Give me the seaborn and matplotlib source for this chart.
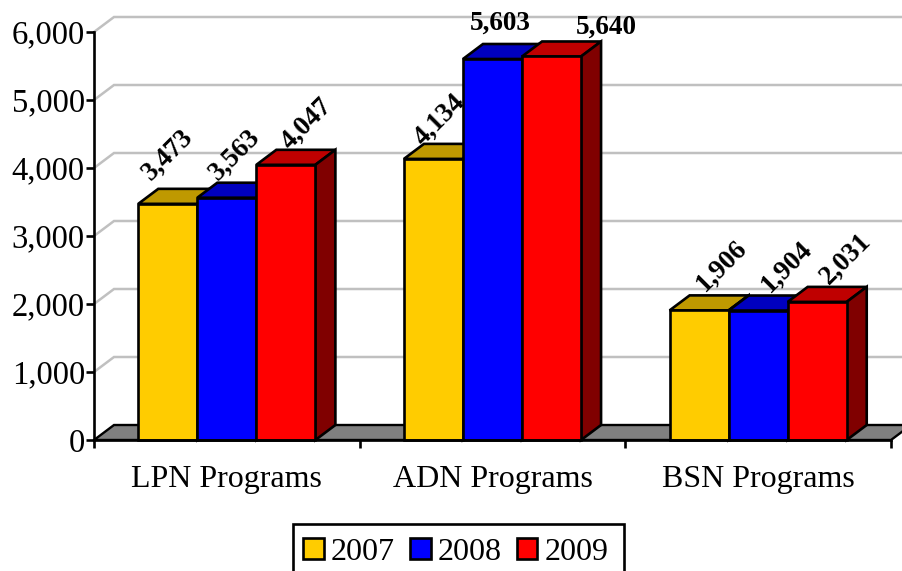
import matplotlib
matplotlib.use("Agg")
import matplotlib.pyplot as plt
from matplotlib.colors import to_rgb
from matplotlib.patches import Polygon, Rectangle
import pandas as pd
import seaborn as sns

programs = ["LPN Programs", "ADN Programs", "BSN Programs"]
years = ["2007", "2008", "2009"]
values_2007 = [3473, 4134, 1906]
values_2008 = [3563, 5603, 1904]
values_2009 = [4047, 5640, 2031]
y_ticks = [0, 1000, 2000, 3000, 4000, 5000, 6000]
bar_colors = ["#FFCC00", "#0000FF", "#FF0000"]

# label placement by hand, pixels from the top middle of the front face
label_offsets = [(0, 49), (8, 43), (21, 41),
                 (6, 39), (8, 36), (55, 29),
                 (23, 45), (29, 44), (28, 43)]
label_rotation = [45, 45, 45, 45, 0, 0, 45, 45, 45]

W, H = 903, 571
LEFT, RIGHT, ZERO, TOP = 94, 891, 440, 32
DEPTH_X, DEPTH_Y = 20, 15

df = pd.DataFrame({
    "program": programs * 3,
    "year": [y for y in years for _ in programs],
    "value": values_2007 + values_2008 + values_2009,
})

sns.set_style("white")
plt.rcParams["font.family"] = ["Liberation Serif", "DejaVu Serif"]
plt.rcParams["text.color"] = "black"

fig = plt.figure(figsize=(W / 100, H / 100), dpi=100)
ax = fig.add_axes([LEFT / W, (H - ZERO) / H, (RIGHT - LEFT) / W, (ZERO - TOP) / H])
sns.barplot(data=df, x="program", y="value", hue="year", palette=bar_colors,
            saturation=1, width=2 / 3, gap=0, edgecolor="black", linewidth=2,
            ax=ax)
ax.set_xlim(-0.5, 2.5)
ax.set_ylim(0, 6000)
ax.set_xlabel("")
ax.set_ylabel("")
ax.patch.set_alpha(0)

# depth of the fake 3d box in data units
dx = DEPTH_X * 3 / (RIGHT - LEFT)
dy = DEPTH_Y * 6000 / (ZERO - TOP)


def shade(color, k):
    return tuple(c * k for c in to_rgb(color))


# back wall gridlines
for t in y_ticks[1:]:
    ax.plot([-0.5, -0.5 + dx, 2.5 + dx], [t, t + dy, t + dy], color="#C0C0C0",
            lw=1.8, clip_on=False, zorder=0.5, solid_joinstyle="miter")

# floor
ax.add_patch(Polygon([(-0.5, 0), (-0.5 + dx, dy), (2.5 + dx, dy), (2.5, 0)],
                     closed=True, facecolor="#808080", edgecolor="black", lw=1.7,
                     clip_on=False, zorder=1))

bars = []
for cont, color in zip(ax.containers, bar_colors):
    for rect in cont:
        bars.append((rect, color))
bars.sort(key=lambda b: b[0].get_x())

for i, (rect, color) in enumerate(bars):
    x0 = rect.get_x()
    x1 = x0 + rect.get_width()
    h = rect.get_height()
    z = 3 + i
    ax.add_patch(Polygon([(x0, h), (x0 + dx, h + dy), (x1 + dx, h + dy), (x1, h)],
                         closed=True, facecolor=shade(color, 0.75), edgecolor="black",
                         lw=1.9, clip_on=False, zorder=z))
    ax.add_patch(Polygon([(x1, 0), (x1 + dx, dy), (x1 + dx, h + dy), (x1, h)],
                         closed=True, facecolor=shade(color, 0.5), edgecolor="black",
                         lw=1.9, clip_on=False, zorder=z))
    rect.set_zorder(z + 0.5)
    rect.set_clip_on(False)
    rect.set_linewidth(1.9)
    ax.annotate(f"{int(h):,}", (x0 + rect.get_width() / 2, h),
                xytext=label_offsets[i], textcoords="offset pixels",
                ha="center", va="center", rotation=label_rotation[i],
                rotation_mode="anchor", fontsize=19.5, fontweight="bold",
                color="black", zorder=50, annotation_clip=False)

sns.despine(ax=ax, top=True, right=True)
for side in ["left", "bottom"]:
    ax.spines[side].set_linewidth(1.9)
    ax.spines[side].set_color("black")
    ax.spines[side].set_zorder(40)

ax.set_yticks(y_ticks)
ax.set_yticklabels([f"{t:,}" for t in y_ticks])
ax.tick_params(axis="y", length=5.5, width=1.9, color="black", left=True,
               labelsize=23.5, pad=1, labelcolor="black")
ax.set_xticks([-0.5, 0.5, 1.5, 2.5])
ax.set_xticklabels(["", "", "", ""])
ax.set_xticks([0, 1, 2], minor=True)
ax.set_xticklabels(programs, minor=True)
ax.tick_params(axis="x", which="major", length=6, width=1.9, color="black", bottom=True)
ax.tick_params(axis="x", which="minor", length=0, labelsize=23, pad=18, labelcolor="black")

handles, labels = ax.get_legend_handles_labels()
ax.get_legend().remove()
leg = fig.legend(handles, labels, ncol=3, loc="lower left",
                 bbox_to_anchor=(303 / W, 4 / H), bbox_transform=fig.transFigure,
                 frameon=False, fontsize=23, handlelength=0.65, handleheight=0.65,
                 handletextpad=0.22, columnspacing=0.47, borderpad=0, borderaxespad=0)
for h in leg.legend_handles:
    h.set_linewidth(1.9)

# legend box runs off the bottom of the picture
fig.add_artist(Rectangle((293 / W, -10 / H), 331 / W, (H - 524 + 10) / H,
                         transform=fig.transFigure, fill=False, edgecolor="black",
                         lw=1.9, clip_on=False))

fig.savefig("out.png", dpi=100)
